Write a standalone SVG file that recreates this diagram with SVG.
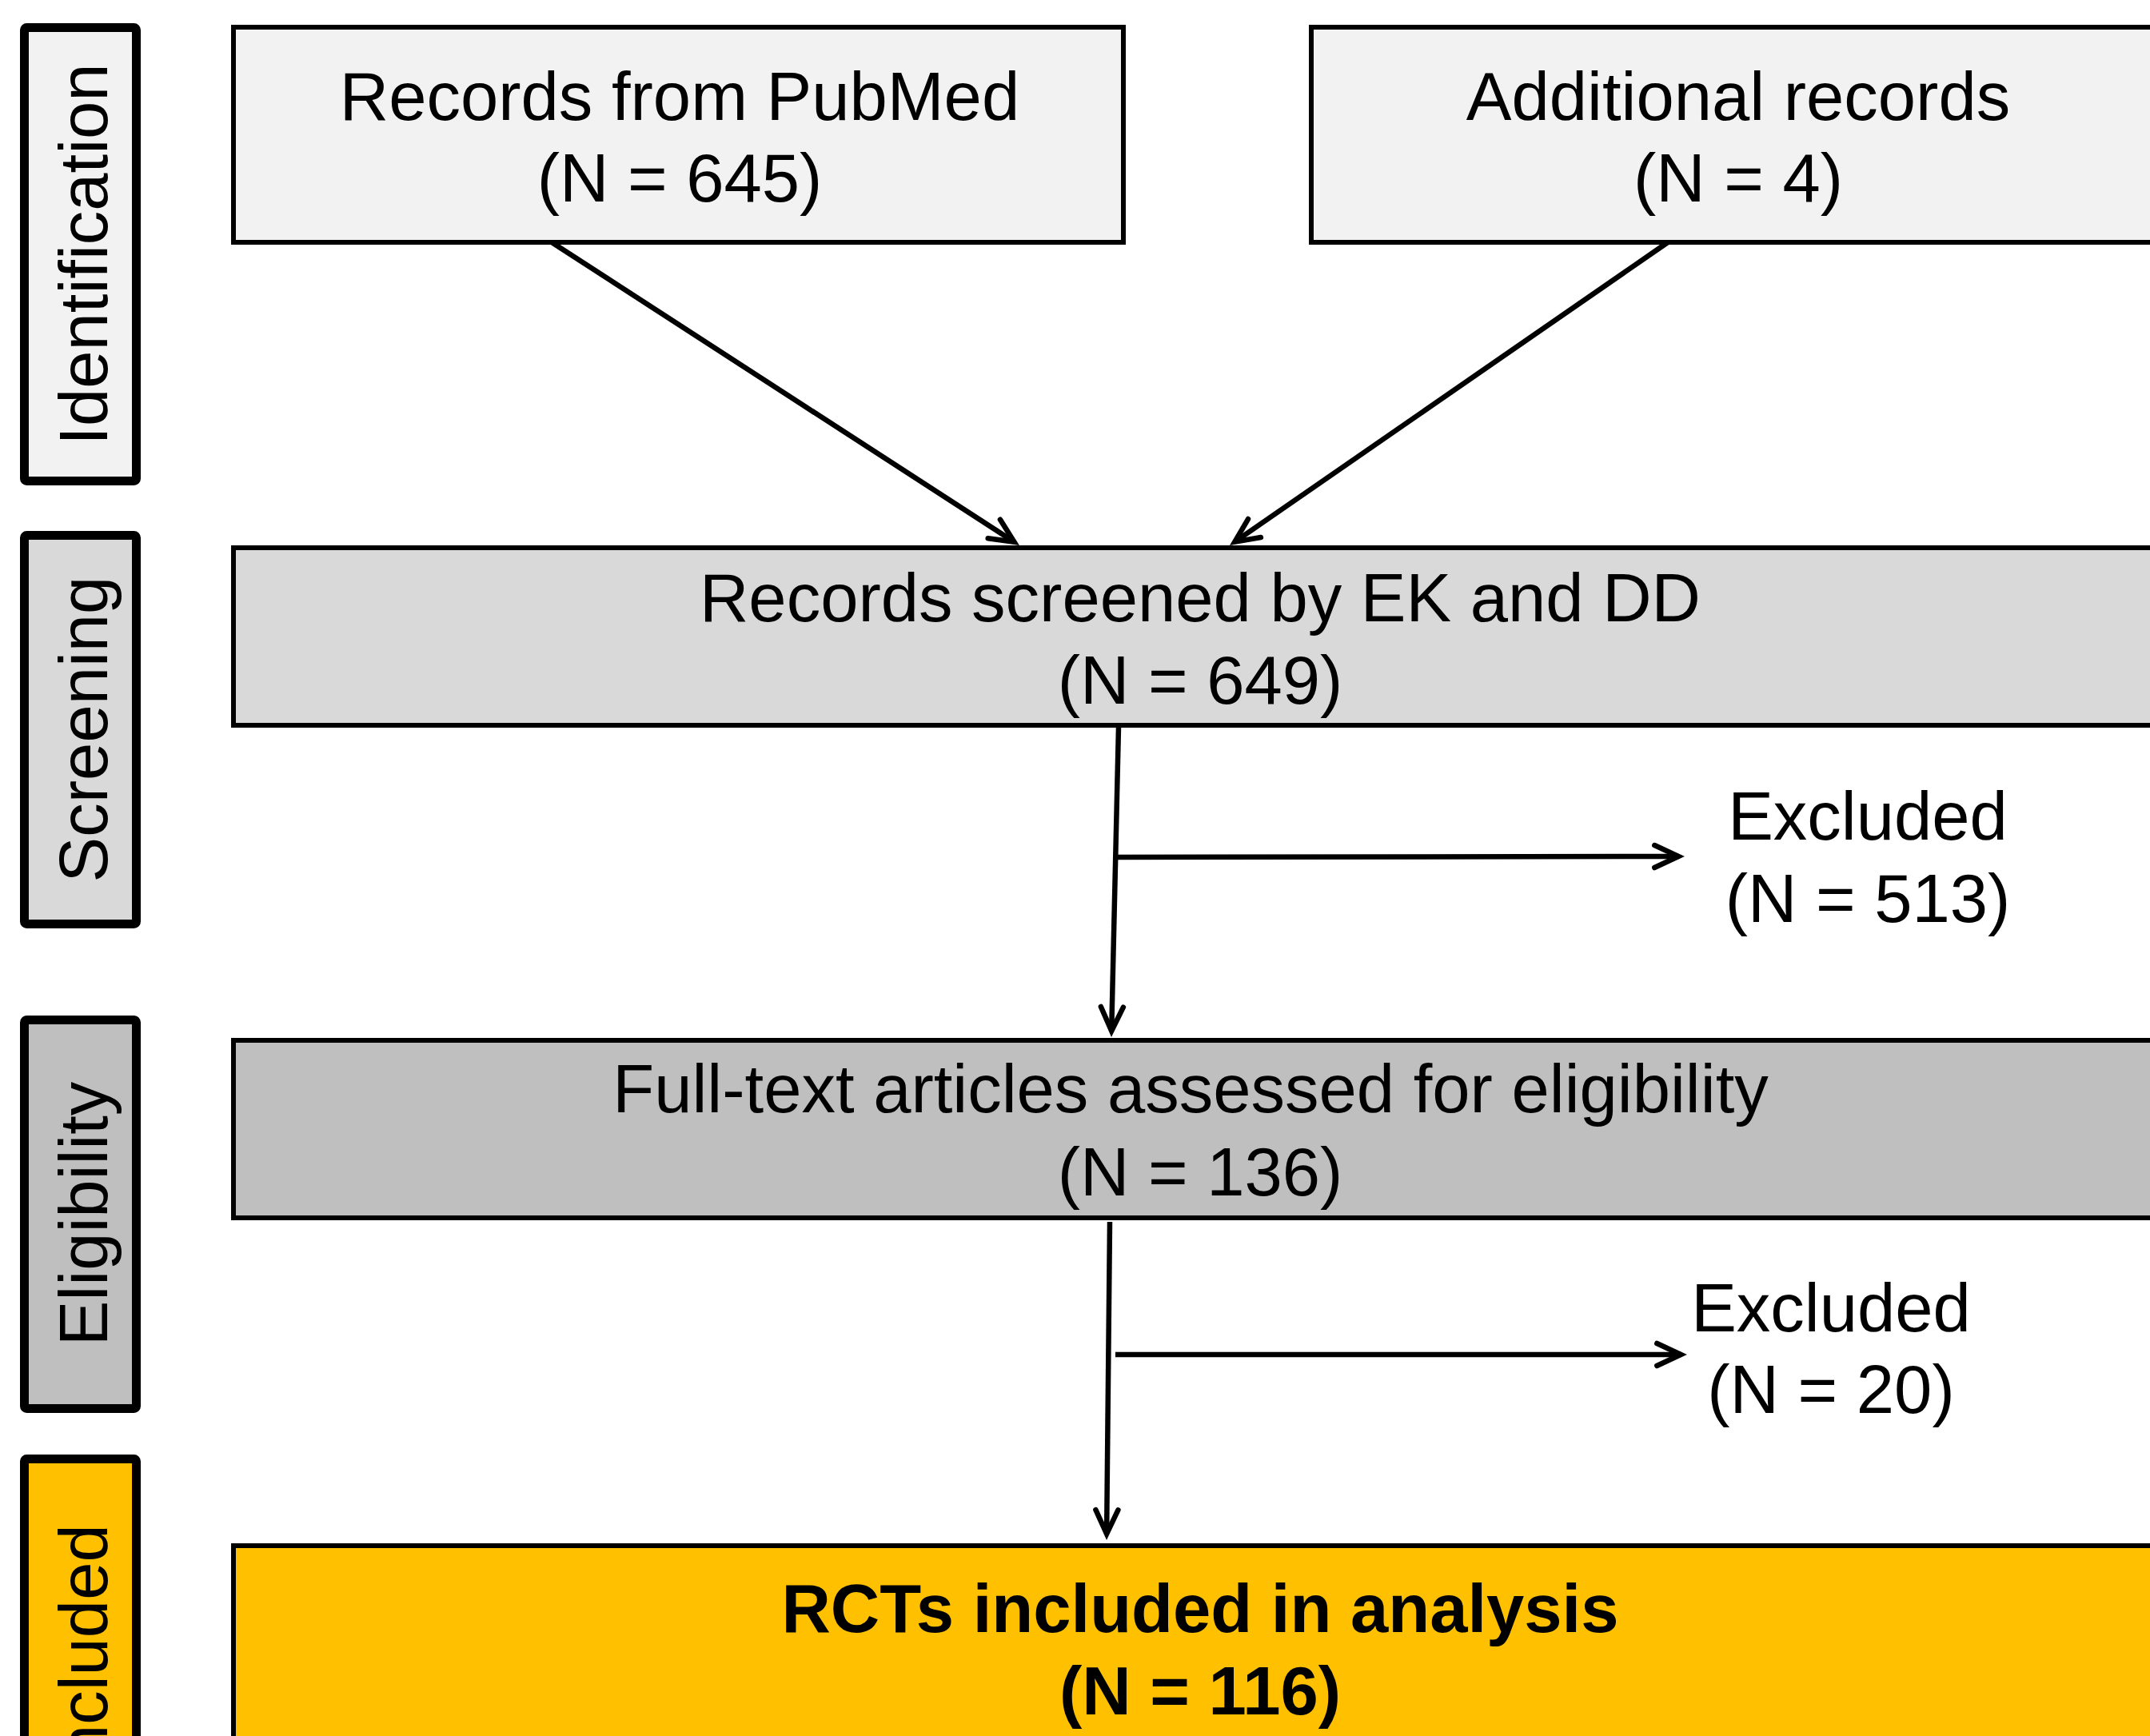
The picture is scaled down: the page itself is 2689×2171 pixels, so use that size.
<svg xmlns="http://www.w3.org/2000/svg" width="2689" height="2171" viewBox="0 0 2689 2171">
  <style>
    .lbl { stroke: #000; stroke-width: 11; }
    .box { stroke: #000; stroke-width: 6; }
    .t { font-family: "Liberation Sans", Arial, sans-serif; font-size: 85px; fill: #000; }
    .c { text-anchor: middle; }
    .b { font-weight: bold; }
    .conn { stroke: #000; stroke-width: 6.5; fill: none; marker-end: url(#arr); }
    .g1 { fill: #f2f2f2; }
    .g2 { fill: #d9d9d9; }
    .g3 { fill: #bfbfbf; }
    .y { fill: #ffc000; }
  </style>
  <defs>
    <marker id="arr" markerUnits="userSpaceOnUse" orient="auto" overflow="visible" refX="0" refY="0" markerWidth="60" markerHeight="60">
      <path d="M-30,-14 L0,0 L-30,14" fill="none" stroke="#000" stroke-width="6.5" stroke-linecap="round" stroke-linejoin="miter"/>
    </marker>
  </defs>
  <rect width="2689" height="2171" fill="#fff"/>

  <g id="label-identification">
    <rect class="lbl g1" x="30.5" y="34.5" width="140" height="567" rx="3"/>
    <text class="t c" transform="translate(134,318) rotate(-90)">Identification</text>
  </g>
  <g id="label-screening">
    <rect class="lbl g2" x="30.5" y="669.5" width="140" height="486" rx="3"/>
    <text class="t c" transform="translate(134,912) rotate(-90)">Screening</text>
  </g>
  <g id="label-eligibility">
    <rect class="lbl g3" x="30.5" y="1275.5" width="140" height="486" rx="3"/>
    <text class="t c" transform="translate(134,1518) rotate(-90)">Eligibility</text>
  </g>
  <g id="label-included">
    <rect class="lbl y" x="30.5" y="1824.5" width="140" height="486" rx="3"/>
    <text class="t c" transform="translate(134,2067) rotate(-90)">Included</text>
  </g>

  <g id="node-pubmed">
    <rect class="box g1" x="292" y="34" width="1113" height="269"/>
    <text class="t c" x="850" y="150">Records from PubMed</text>
    <text class="t c" x="850" y="252">(N = 645)</text>
  </g>
  <g id="node-additional">
    <rect class="box g1" x="1640" y="34" width="1080" height="269"/>
    <text class="t c" x="2174" y="150">Additional records</text>
    <text class="t c" x="2174" y="252">(N = 4)</text>
  </g>
  <g id="node-screened">
    <rect class="box g2" x="292" y="685" width="2428" height="222"/>
    <text class="t c" x="1501" y="777">Records screened by EK and DD</text>
    <text class="t c" x="1501" y="880">(N = 649)</text>
  </g>
  <g id="node-excluded1">
    <text class="t c" x="2336" y="1050">Excluded</text>
    <text class="t c" x="2336" y="1153">(N = 513)</text>
  </g>
  <g id="node-fulltext">
    <rect class="box g3" x="292" y="1301" width="2428" height="222"/>
    <text class="t c" x="1489" y="1391">Full-text articles assessed for eligibility</text>
    <text class="t c" x="1501" y="1495">(N = 136)</text>
  </g>
  <g id="node-excluded2">
    <text class="t c" x="2290" y="1665">Excluded</text>
    <text class="t c" x="2290" y="1767">(N = 20)</text>
  </g>
  <g id="node-included">
    <rect class="box y" x="292" y="1933" width="2428" height="300"/>
    <text class="t c b" x="1501" y="2041">RCTs included in analysis</text>
    <text class="t c b" x="1501" y="2144">(N = 116)</text>
  </g>

  <g id="connectors">
    <line class="conn" x1="690" y1="303" x2="1268.5" y2="677.8"/>
    <line class="conn" x1="2086" y1="303" x2="1544.3" y2="677.6"/>
    <line class="conn" x1="1399" y1="909" x2="1390.2" y2="1289.3"/>
    <line class="conn" x1="1395" y1="1072" x2="2099.3" y2="1071"/>
    <line class="conn" x1="1388" y1="1528" x2="1384.1" y2="1918.3"/>
    <line class="conn" x1="1395" y1="1694" x2="2102.3" y2="1694"/>
  </g>
</svg>
